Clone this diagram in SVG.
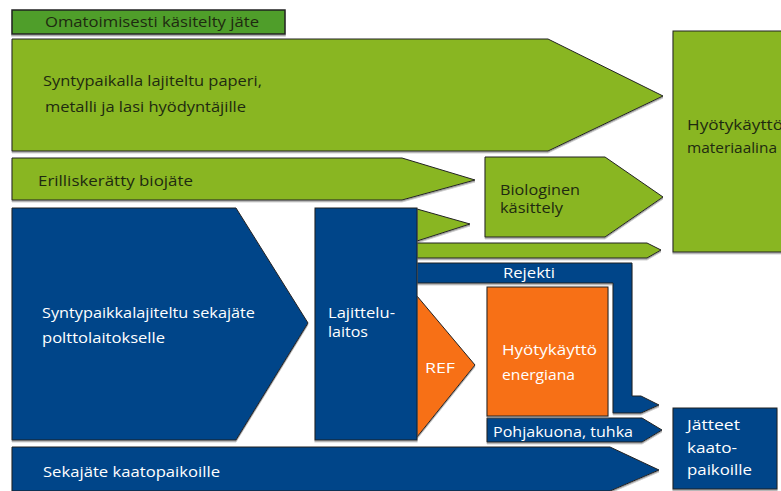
<svg xmlns="http://www.w3.org/2000/svg" width="781" height="491" viewBox="0 0 781 491">
<style>
.g{fill:#89b621;stroke:#222;stroke-width:1}
.dg{fill:#4f9e2c;stroke:#222;stroke-width:1.5}
.b{fill:#004489;stroke:#222;stroke-width:1}
.o{fill:#f76f17;stroke:#222;stroke-width:1}
text{font-family:"Open Sans","Liberation Sans",sans-serif;font-size:14.5px}
.tk{fill:#1e2a10}
.tw{fill:#ffffff}
</style>
<defs>
<filter id="sh" x="-5%" y="-5%" width="110%" height="120%">
<feDropShadow dx="0" dy="1.5" stdDeviation="0.6" flood-color="#888" flood-opacity="0.8"/>
</filter>
</defs>
<g id="omatoimisesti">
<rect class="dg" x="12" y="10" width="273" height="24" filter="url(#sh)"/>
<text class="tk" x="45" y="27" textLength="214" lengthAdjust="spacingAndGlyphs">Omatoimisesti käsitelty jäte</text>
</g>
<g id="hyotykaytto-materiaalina">
<rect class="g" x="673" y="31" width="115" height="221" filter="url(#sh)"/>
<text class="tk" x="687" y="130" textLength="96" lengthAdjust="spacingAndGlyphs">Hyötykäyttö</text>
<text class="tk" x="687" y="153" textLength="90" lengthAdjust="spacingAndGlyphs">materiaalina</text>
</g>
<g id="connectors">
<g id="syntypaikalla-paperi">
<polygon class="g" points="12,39 548,39 663,96 548,151 12,151" filter="url(#sh)"/>
<text class="tk" x="43" y="86" textLength="219" lengthAdjust="spacingAndGlyphs">Syntypaikalla lajiteltu paperi,</text>
<text class="tk" x="45" y="112" textLength="201" lengthAdjust="spacingAndGlyphs">metalli ja lasi hyödyntäjille</text>
</g>
<g id="erilliskeratty-biojate">
<polygon class="g" points="12,158 402,158 475,180 402,200 12,200" filter="url(#sh)"/>
<text class="tk" x="38" y="186" textLength="155" lengthAdjust="spacingAndGlyphs">Erilliskerätty biojäte</text>
</g>
<g id="lajittelu-bio">
<polygon class="g" points="417,209 470,224 417,241" filter="url(#sh)"/>
</g>
<g id="lajittelu-materiaali">
<polygon class="g" points="417,243 647,243 661,250 647,258 417,258" filter="url(#sh)"/>
</g>
<g id="rejekti">
<polygon class="b" points="417,263 632,263 632,396 641,396 659,405 641,413 613,413 613,283 417,283" filter="url(#sh)"/>
<text class="tw" x="503" y="278" textLength="52" lengthAdjust="spacingAndGlyphs">Rejekti</text>
</g>
<g id="ref">
<polygon class="o" points="417,296 475,365 417,437" filter="url(#sh)"/>
<text class="tw" x="425" y="373" textLength="30" lengthAdjust="spacingAndGlyphs">REF</text>
</g>
<g id="pohjakuona">
<polygon class="b" points="487,418 642,418 662,430 642,442 487,442" filter="url(#sh)"/>
<text class="tw" x="493" y="437" textLength="140" lengthAdjust="spacingAndGlyphs">Pohjakuona, tuhka</text>
</g>
<g id="sekajate-kaatopaikoille">
<polygon class="b" points="12,447 610,447 659,470 610,491 12,491" filter="url(#sh)"/>
<text class="tw" x="43" y="477" textLength="177" lengthAdjust="spacingAndGlyphs">Sekajäte kaatopaikoille</text>
</g>
<g id="syntypaikka-sekajate">
<polygon class="b" points="12,208 236,208 308,323 236,440 12,440" filter="url(#sh)"/>
<text class="tw" x="42" y="318" textLength="213" lengthAdjust="spacingAndGlyphs">Syntypaikkalajiteltu sekajäte</text>
<text class="tw" x="42" y="343" textLength="123" lengthAdjust="spacingAndGlyphs">polttolaitokselle</text>
</g>
</g>
<g id="biologinen-kasittely">
<polygon class="g" points="485,157 605,157 663,197 605,237 485,237" filter="url(#sh)"/>
<text class="tk" x="500" y="195" textLength="80" lengthAdjust="spacingAndGlyphs">Biologinen</text>
<text class="tk" x="500" y="213" textLength="63" lengthAdjust="spacingAndGlyphs">käsittely</text>
</g>
<g id="lajittelulaitos">
<rect class="b" x="315" y="208" width="102" height="232" filter="url(#sh)"/>
<text class="tw" x="328" y="318" textLength="67" lengthAdjust="spacingAndGlyphs">Lajittelu-</text>
<text class="tw" x="328" y="337" textLength="40" lengthAdjust="spacingAndGlyphs">laitos</text>
</g>
<g id="hyotykaytto-energiana">
<rect class="o" x="487" y="287" width="121" height="129" filter="url(#sh)"/>
<text class="tw" x="502" y="355" textLength="95" lengthAdjust="spacingAndGlyphs">Hyötykäyttö</text>
<text class="tw" x="502" y="380" textLength="73" lengthAdjust="spacingAndGlyphs">energiana</text>
</g>
<g id="jatteet-kaatopaikoille">
<rect class="b" x="673" y="408" width="104" height="81" filter="url(#sh)"/>
<text class="tw" x="687" y="430" textLength="53" lengthAdjust="spacingAndGlyphs">Jätteet</text>
<text class="tw" x="687" y="453" textLength="50" lengthAdjust="spacingAndGlyphs">kaato-</text>
<text class="tw" x="687" y="475" textLength="65" lengthAdjust="spacingAndGlyphs">paikoille</text>
</g>
</svg>
